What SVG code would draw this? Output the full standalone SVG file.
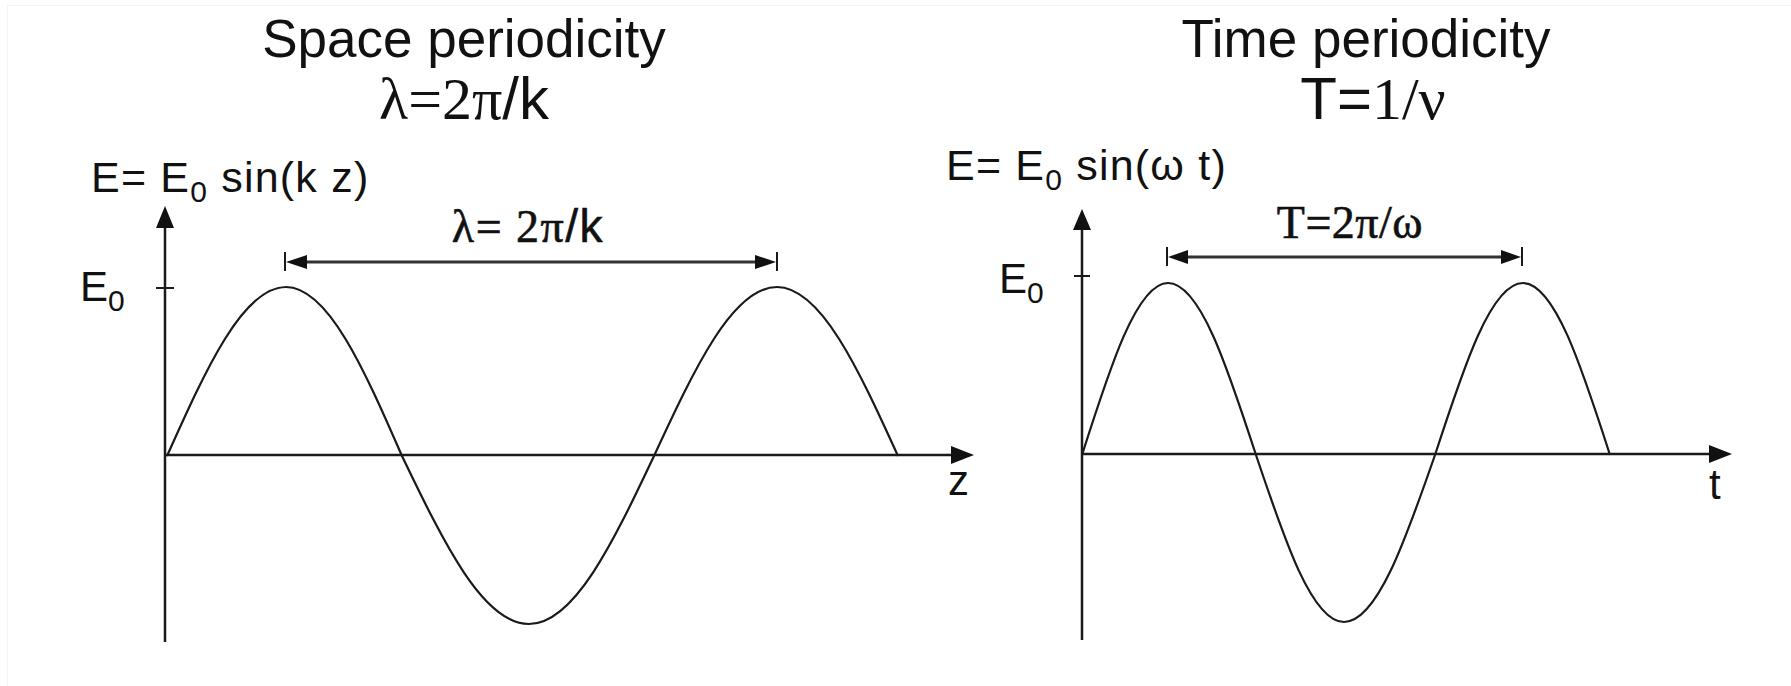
<svg xmlns="http://www.w3.org/2000/svg" width="1791" height="686" viewBox="0 0 1791 686">
<defs>
<style>
.sans{font-family:"Liberation Sans",Arial,sans-serif;fill:#111}
.serif{font-family:"Liberation Serif","Times New Roman",serif;fill:#111}
.title{font-size:53px}
.lbl{font-size:43px;letter-spacing:1.2px}
.e0{font-size:42px}
.axl{font-size:42px}
.dl{font-size:46px;stroke:#111;stroke-width:0.6}
.ax{stroke:#1a1a1a;stroke-width:2.5;fill:none}
.wave{stroke:#1a1a1a;stroke-width:2.2;fill:none}
.dim{stroke:#333;stroke-width:3;fill:none}
.tick{stroke:#1a1a1a;stroke-width:2;fill:none}
.head{fill:#111}
</style>
</defs>
<rect x="0" y="0" width="1791" height="686" fill="#fff"/>
<rect x="7.5" y="5.5" width="1800" height="700" fill="none" stroke="#f3f3f3" stroke-width="1"/>

<g id="left-titles">
<text class="sans title" x="464" y="57" text-anchor="middle">Space periodicity</text>
<text x="464" y="119" text-anchor="middle" font-size="60"><tspan class="serif">λ=2π</tspan><tspan class="sans">/k</tspan></text>
</g>
<g id="right-titles">
<text class="sans title" x="1366" y="57" text-anchor="middle">Time periodicity</text>
<text x="1373" y="119" text-anchor="middle" font-size="60"><tspan class="sans">T=</tspan><tspan class="serif">1/ν</tspan></text>
</g>

<g id="left-plot">
<text class="sans lbl" x="91" y="192">E= E<tspan font-size="30" dy="10">0</tspan><tspan dy="-10"> sin(k z)</tspan></text>
<text class="sans e0" x="80" y="301">E<tspan font-size="30" dy="10">0</tspan></text>
<line class="tick" x1="156" y1="288" x2="174" y2="288"/>
<text class="dl" x="528" y="242" text-anchor="middle" letter-spacing="1.5"><tspan class="serif">λ= 2π</tspan><tspan class="sans">/k</tspan></text>
<text class="sans axl" x="948" y="495">z</text>
<path class="wave" d="M167,456 C205.9,369.3 242.9,287 286,287 C328,287 364.1,369.3 402,456 C443.5,542.2 483,624 529,624 C574.3,624 613.2,542.2 654,456 C694.2,369.3 732.5,287 777,287 C820.8,287 858.5,369.3 898,456"/>
</g>

<g id="right-plot">
<text class="sans lbl" x="946" y="180">E= E<tspan font-size="30" dy="10">0</tspan><tspan dy="-10"> sin(ω t)</tspan></text>
<text class="sans e0" x="999" y="293">E<tspan font-size="30" dy="10">0</tspan></text>
<line class="tick" x1="1074" y1="276" x2="1090" y2="276"/>
<text class="serif dl" x="1350" y="238" text-anchor="middle" letter-spacing="0.5">T=2π/ω</text>
<text class="sans axl" x="1709" y="499" font-size="44">t</text>
<path class="wave" d="M1082,455 C1110.1,366.8 1136.9,283 1168,283 C1199.9,283 1227.3,366.8 1256,455 C1284.7,540.6 1312.1,622 1344,622 C1376.9,622 1405.3,540.6 1435,455 C1463.7,366.8 1491.1,283 1523,283 C1554.5,283 1581.6,366.8 1610,455"/>
</g>

<g id="connectors">
<line class="ax" x1="165" y1="642" x2="165" y2="226"/>
<path class="head" d="M165,206 L156,228 L174,228 z"/>
<line class="ax" x1="165" y1="455" x2="952" y2="455"/>
<path class="head" d="M974,455 L951,446 L951,464 z"/>
<line class="dim" x1="300" y1="262" x2="762" y2="262"/>
<path class="head" d="M286,262 L307,255 L307,269 z"/>
<path class="head" d="M776,262 L755,255 L755,269 z"/>
<line class="tick" x1="285" y1="252" x2="285" y2="271"/>
<line class="tick" x1="777" y1="252" x2="777" y2="271"/>

<line class="ax" x1="1082" y1="640" x2="1082" y2="228"/>
<path class="head" d="M1082,209 L1073,230 L1091,230 z"/>
<line class="ax" x1="1082" y1="454" x2="1712" y2="454"/>
<path class="head" d="M1732,454 L1709,445 L1709,463 z"/>
<line class="dim" x1="1180" y1="257" x2="1508" y2="257"/>
<path class="head" d="M1168,257 L1188,250 L1188,264 z"/>
<path class="head" d="M1521,257 L1501,250 L1501,264 z"/>
<line class="tick" x1="1167" y1="247" x2="1167" y2="266"/>
<line class="tick" x1="1522" y1="247" x2="1522" y2="266"/>
</g>
</svg>
